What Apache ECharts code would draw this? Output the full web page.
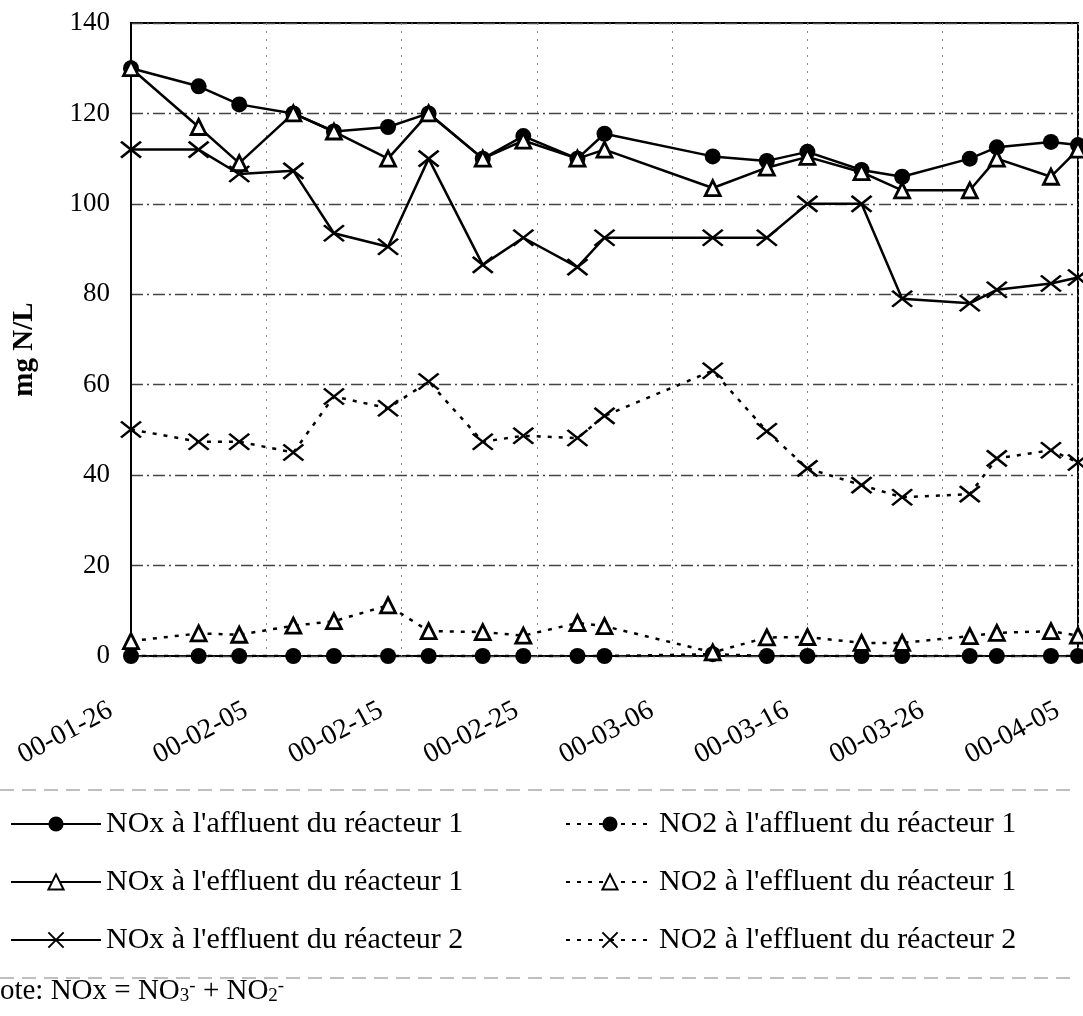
<!DOCTYPE html>
<html>
<head>
<meta charset="utf-8">
<script src="https://cdn.jsdelivr.net/npm/echarts@6/dist/echarts.min.js"></script>
<style>
html,body{margin:0;padding:0;background:#fff;}
#chart{width:1083px;height:1016px;}
</style>
</head>
<body>
<div id="chart"></div>
<script>
// ---- data ----
const dates = ['2000-01-26','2000-01-31','2000-02-03','2000-02-07','2000-02-10','2000-02-14','2000-02-17',
  '2000-02-21','2000-02-24','2000-02-28','2000-03-01','2000-03-09','2000-03-13','2000-03-16','2000-03-20',
  '2000-03-23','2000-03-28','2000-03-30','2000-04-03','2000-04-05'];
const startDate = '2000-01-26';
const tickLabels = ['00-01-26','00-02-05','00-02-15','00-02-25','00-03-06','00-03-16','00-03-26','00-04-05'];
const yTicks = [0,20,40,60,80,100,120,140];

const noxAffR1 = [130,126,122,120,116,117,120,110,115,110,115.5,110.5,109.5,111.5,107.5,106,110,112.5,113.7,113];
const noxEffR1 = [130,117,109,120,116,110,120,110,114,110,112,103.5,108,110.4,107,103,103,110,106,112];
const noxEffR2 = [112,112,106.6,107.3,93.5,90.5,110,86.5,92.5,86,92.5,92.5,92.5,100,100,79,78,81,82.4,83.7];
const no2AffR1 = [0,0,0,0,0,0,0,0,0,0,0,0.4,0,0,0,0,0,0,0,0];
const no2EffR1 = [3.3,5.0,4.7,6.7,7.7,11.2,5.5,5.3,4.5,7.3,6.6,0.8,4.1,4.2,2.9,2.9,4.4,5.1,5.5,4.5];
const no2EffR2 = [50.1,47.4,47.4,45.0,57.4,54.8,60.7,47.4,48.7,48.2,53.1,63.1,49.7,41.5,37.8,35.1,35.8,43.7,45.5,42.8];

const seriesNames = [
  "NOx à l'affluent du réacteur 1",
  "NOx à l'effluent du réacteur 1",
  "NOx à l'effluent du réacteur 2",
  "NO2 à l'affluent du réacteur 1",
  "NO2 à l'effluent du réacteur 1",
  "NO2 à l'effluent du réacteur 2"
];

// ---- helpers ----
const DAY = 86400000;
function dayOffset(d){ return Math.round((Date.parse(d+'T00:00:00Z') - Date.parse(startDate+'T00:00:00Z'))/DAY); }
const xDays = dates.map(dayOffset);
function pairs(vals){ return vals.map((v,i)=>[xDays[i], v]); }

const FONT = '"Liberation Serif", "Times New Roman", serif';
const crossPath = 'path://M0,0L10,10M10,0L0,10';

const markers = {
  circle: {symbol:'circle', symbolSize:16, itemStyle:{color:'#000', borderColor:'#000', borderWidth:0}},
  triangle: {symbol:'triangle', symbolSize:15, itemStyle:{color:'#fff', borderColor:'#000', borderWidth:2.8}},
  cross: {symbol:crossPath, symbolSize:[20,16], itemStyle:{color:'#000', borderColor:'#000', borderWidth:2.5}}
};

function mk(name, vals, marker, dotted){
  return Object.assign({
    name: name,
    type: 'line',
    data: pairs(vals),
    showSymbol: true,
    animation: false,
    lineStyle: {color:'#000', width: 2.5, type: dotted ? [4,7] : 'solid'},
    z: dotted ? 3 : 4
  }, markers[marker]);
}

const chart = echarts.init(document.getElementById('chart'), null, {renderer:'canvas'});
const legendText = {fontFamily: FONT, fontSize: 30, color:'#000'};

chart.setOption({
  backgroundColor: '#fff',
  animation: false,
  grid: {left:131, right:5, top:23, bottom:360, show:true, borderColor:'#000', borderWidth:2, outerBoundsMode:'none'},
  xAxis: {
    type:'value', min:0, max:70, interval:10,
    axisLine:{show:false},
    axisTick:{show:false},
    splitLine:{show:true, lineStyle:{color:'#888', width:1, type:[2,6]}},
    axisLabel:{
      rotate:28, margin:42, fontFamily:FONT, fontSize:28, color:'#000',
      formatter: v => '{a|' + tickLabels[Math.round(v/10)] + '}',
      rich:{a:{fontFamily:FONT, fontSize:28, color:'#000', padding:[0,23,0,0]}}
    }
  },
  yAxis: {
    type:'value', min:0, max:140, interval:20,
    name:'mg N/L', nameLocation:'middle', nameGap:92,
    nameTextStyle:{fontFamily:FONT, fontSize:29, fontWeight:'bold', color:'#000', padding:[0,20,0,0]},
    axisLine:{show:true, lineStyle:{color:'#000', width:2}},
    axisTick:{show:false},
    splitLine:{show:true, lineStyle:{color:'#444', width:1.4, type:[12,4,2,4]}},
    axisLabel:{margin:21, fontFamily:FONT, fontSize:27, color:'#000',
      formatter: v => String(yTicks[Math.round(v/20)])}
  },
  legend: [
    {data: seriesNames.slice(0,3), orient:'vertical', left:10, top:809, padding:0, itemWidth:90, itemHeight:19,
     itemGap:28, textStyle:legendText, selectedMode:false},
    {data: seriesNames.slice(3,6), orient:'vertical', left:565, top:809, padding:0, itemWidth:88, itemHeight:19,
     itemGap:28, textStyle:legendText, selectedMode:false}
  ],
  graphic: [
    {type:'line', silent:true, shape:{x1:0, y1:790, x2:1078, y2:790}, style:{stroke:'#aaa', lineWidth:1.5, lineDash:[14,8]}},
    {type:'line', silent:true, shape:{x1:0, y1:978, x2:1078, y2:978}, style:{stroke:'#aaa', lineWidth:1.5, lineDash:[14,8]}},
    {type:'text', silent:true, x:-21, y:977, style:{
      text:'Note: NOx = NO{sub|3}{sup|-} + NO{sub|2}{sup|-}',
      fontFamily:FONT, fontSize:29, fill:'#000',
      rich:{
        sub:{fontFamily:FONT, fontSize:19, verticalAlign:'bottom', padding:[10,0,0,0], fill:'#000'},
        sup:{fontFamily:FONT, fontSize:19, verticalAlign:'top', padding:[0,0,10,0], fill:'#000'}
      }
    }}
  ],
  series: [
    mk(seriesNames[0], noxAffR1, 'circle', false),
    mk(seriesNames[1], noxEffR1, 'triangle', false),
    mk(seriesNames[2], noxEffR2, 'cross', false),
    mk(seriesNames[3], no2AffR1, 'circle', true),
    mk(seriesNames[4], no2EffR1, 'triangle', true),
    mk(seriesNames[5], no2EffR2, 'cross', true)
  ]
});
</script>
</body>
</html>
